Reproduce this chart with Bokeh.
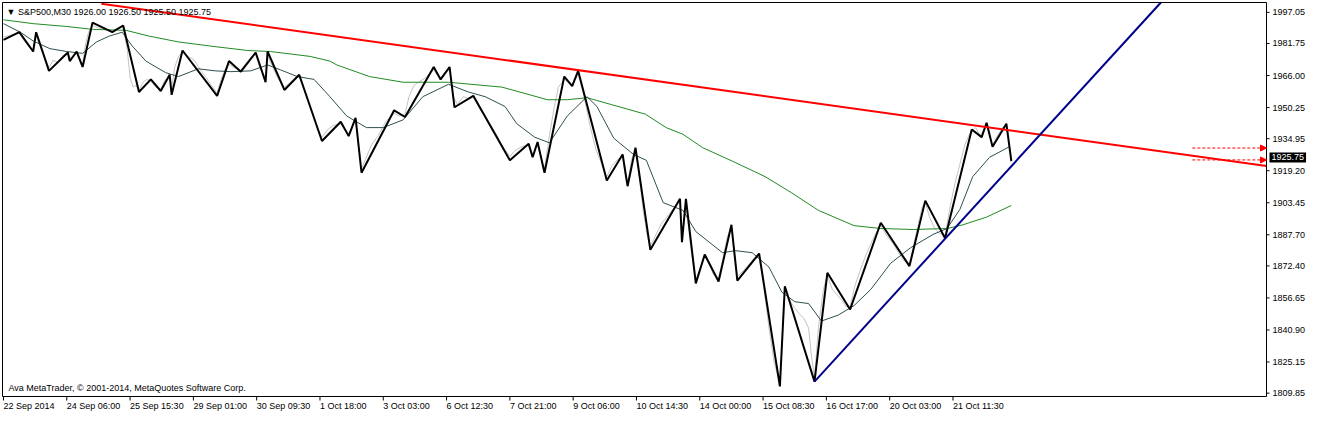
from bokeh.plotting import figure
from bokeh.models import Range1d, Label, Arrow, NormalHead
from bokeh.embed import file_html
from bokeh.resources import INLINE

# ---------------- data (bar index on x, price on y) ----------------
symbol = "S&P500,M30"
ohlc = ["1926.00", "1926.50", "1925.50", "1925.75"]
last_price = 1925.75
copyright_text = "Ava MetaTrader, \u00a9 2001-2014, MetaQuotes Software Corp."

x_tick_pos = [3, 67, 131, 195, 259, 323, 387, 451, 515, 579, 643, 707, 771, 835, 899, 963]
x_tick_labels = ["22 Sep 2014", "24 Sep 06:00", "25 Sep 15:30", "29 Sep 01:00",
                 "30 Sep 09:30", "1 Oct 18:00", "3 Oct 03:00", "6 Oct 12:30",
                 "7 Oct 21:00", "9 Oct 06:00", "10 Oct 14:30", "14 Oct 00:00",
                 "15 Oct 08:30", "16 Oct 17:00", "20 Oct 03:00", "21 Oct 11:30"]
y_ticks = [1997.05, 1981.75, 1966.00, 1950.25, 1934.95, 1919.20, 1903.45,
           1887.70, 1872.40, 1856.65, 1840.90, 1825.15, 1809.85]
x_min, x_max = 2, 1280          # chart window, bars
y_min, y_max = 1808.2, 2001.9   # chart window, price

# close price line (light gray)
close_x = [3, 10, 19, 24, 28, 33, 36, 40, 45, 49, 53, 58, 63, 68, 72, 77, 80, 83, 86, 89,
           93, 98, 105, 113, 118, 124, 128, 131, 134, 137, 140, 144, 148, 152, 157, 162, 166,
           171, 173, 176, 180, 184, 190, 196, 202, 208, 213, 219, 223, 227, 231, 236, 243,
           249, 254, 258, 262, 268, 270, 274, 280, 287, 292, 298, 302, 306, 311, 316, 320,
           325, 330, 336, 344, 348, 352, 356, 359, 362, 365, 369, 375, 382, 390, 398, 403,
           409, 413, 418, 424, 430, 438, 442, 445, 450, 454, 458, 462, 468, 474, 478, 484,
           490, 496, 502, 508, 515, 520, 527, 534, 538, 543, 547, 550, 555, 560, 564, 570,
           575, 578, 584, 590, 596, 602, 608, 613, 618, 624, 629, 632, 634, 638, 642, 646,
           650, 654, 657, 662, 668, 676, 682, 687, 689, 693, 697, 700, 703, 707, 712, 717,
           721, 726, 730, 735, 739, 742, 745, 750, 756, 762, 767, 772, 777, 782, 788, 791,
           793, 797, 802, 807, 812, 817, 820, 823, 827, 832, 836, 841, 846, 851, 855, 859,
           864, 870, 876, 882, 886, 890, 896, 902, 908, 913, 919, 923, 928, 932, 935, 939,
           944, 949, 955, 960, 965, 970, 975, 979, 982, 986, 990, 994, 997, 1000, 1003,
           1008, 1013, 1017, 1020, 1022]
close_y = [1984.9, 1985.8, 1986.8, 1983.0, 1980.6, 1978.3, 1985.8, 1980.2, 1974.5, 1969.8,
           1973.5, 1972.6, 1975.9, 1976.4, 1974.5, 1976.9, 1973.5, 1971.6, 1981.6, 1987.3,
           1990.6, 1989.6, 1988.7, 1987.7, 1989.2, 1989.6, 1979.2, 1965.0, 1960.3, 1961.2,
           1958.9, 1962.7, 1964.1, 1963.1, 1960.3, 1959.3, 1963.6, 1965.5, 1959.3, 1969.8,
           1975.4, 1977.3, 1975.4, 1973.5, 1968.8, 1965.0, 1961.2, 1957.5, 1964.1, 1968.8,
           1971.6, 1969.8, 1968.8, 1972.6, 1975.4, 1976.4, 1969.8, 1965.0, 1975.4, 1971.6,
           1965.0, 1960.3, 1962.2, 1965.0, 1965.5, 1960.3, 1953.2, 1947.0, 1940.4, 1935.7,
           1939.0, 1941.4, 1942.3, 1939.5, 1937.6, 1941.4, 1944.2, 1931.9, 1920.1, 1924.8,
           1931.9, 1936.6, 1943.7, 1947.5, 1946.1, 1947.0, 1955.6, 1961.2, 1963.1, 1965.0,
           1968.8, 1966.0, 1965.0, 1967.9, 1968.8, 1955.6, 1951.8, 1955.6, 1954.6, 1955.6,
           1949.9, 1946.1, 1941.4, 1936.6, 1931.0, 1926.2, 1929.1, 1931.0, 1931.9, 1927.2,
           1931.9, 1924.8, 1920.1, 1936.6, 1950.8, 1960.3, 1964.1, 1962.2, 1961.2, 1966.9,
           1955.6, 1941.4, 1929.5, 1922.4, 1916.3, 1921.5, 1924.8, 1926.2, 1915.3, 1913.0,
           1924.8, 1929.1, 1915.3, 1898.8, 1887.0, 1882.2, 1887.0, 1893.1, 1897.8, 1901.6,
           1904.5, 1885.5, 1903.5, 1884.6, 1874.2, 1865.7, 1870.4, 1877.0, 1872.8, 1868.0,
           1866.6, 1875.1, 1887.0, 1891.2, 1877.5, 1867.1, 1869.5, 1872.8, 1876.1, 1877.0,
           1860.9, 1842.0, 1825.5, 1814.6, 1842.0, 1860.9, 1856.2, 1852.4, 1849.1, 1846.8,
           1842.0, 1827.8, 1817.4, 1842.0, 1860.9, 1867.6, 1860.9, 1858.1, 1855.3, 1852.4,
           1852.4, 1862.8, 1871.4, 1878.9, 1885.5, 1889.3, 1892.2, 1887.4, 1883.6, 1878.9,
           1875.1, 1873.7, 1882.2, 1893.1, 1901.6, 1903.5, 1896.9, 1891.2, 1888.4, 1887.4,
           1901.2, 1913.0, 1922.4, 1931.9, 1936.6, 1938.5, 1940.4, 1936.6, 1939.0, 1941.4,
           1936.6, 1931.9, 1936.6, 1940.4, 1941.4, 1931.9, 1925.3]

# ZigZag indicator (thick black)
zz_x = [3, 19, 33, 36, 49, 68, 70, 77, 83, 93, 113, 124, 140, 152, 162, 171, 173, 184, 219,
        231, 243, 258, 268, 270, 287, 302, 325, 344, 352, 359, 365, 398, 409, 438, 445, 454,
        459, 478, 515, 534, 538, 543, 550, 570, 578, 584, 613, 629, 634, 642, 657, 687, 689,
        693, 703, 712, 726, 739, 745, 767, 788, 793, 823, 836, 859, 890, 919, 935, 955, 982,
        992, 997, 1003, 1017, 1022]
zz_y = [1983.5, 1987.3, 1977.8, 1987.3, 1968.3, 1977.3, 1973.1, 1977.8, 1970.2, 1992.0,
        1987.3, 1990.6, 1957.9, 1964.1, 1958.4, 1966.4, 1956.5, 1978.3, 1956.0, 1973.1,
        1967.9, 1977.3, 1962.7, 1977.8, 1958.9, 1966.4, 1933.8, 1943.3, 1936.2, 1945.2,
        1918.2, 1948.9, 1945.6, 1970.2, 1964.1, 1970.2, 1950.4, 1956.0, 1924.3, 1932.4,
        1925.8, 1933.3, 1918.2, 1965.5, 1960.8, 1968.3, 1914.4, 1927.2, 1911.6, 1930.5,
        1880.3, 1905.4, 1884.1, 1905.4, 1863.8, 1878.0, 1864.7, 1892.6, 1865.2, 1878.5,
        1813.2, 1862.4, 1815.5, 1869.0, 1851.0, 1893.6, 1872.3, 1904.5, 1886.0, 1939.5,
        1935.7, 1942.8, 1931.0, 1942.3, 1923.9]

# fast moving average (dark slate)
ma_fast_x = [3, 20, 33, 50, 67, 83, 97, 110, 123, 133, 147, 167, 180, 200, 217, 233, 253, 270,
             283, 300, 317, 333, 350, 370, 387, 407, 427, 453, 473, 490, 510, 522, 540, 555,
             573, 593, 603, 620, 640, 653, 670, 690, 703, 730, 743, 760, 777, 790, 803, 817,
             830, 847, 863, 880, 900, 920, 943, 957, 970, 983, 1000, 1020]
ma_fast_y = [1991.5, 1987.3, 1983.0, 1979.2, 1977.8, 1976.9, 1982.5, 1985.4, 1987.3, 1980.6,
             1973.1, 1967.4, 1965.5, 1969.3, 1968.3, 1967.9, 1968.3, 1971.2, 1968.8, 1965.5,
             1964.1, 1955.6, 1946.1, 1940.4, 1940.4, 1944.2, 1955.6, 1961.7, 1957.9, 1955.6,
             1950.8, 1942.3, 1935.7, 1932.9, 1946.1, 1955.6, 1950.8, 1935.2, 1927.2, 1924.3,
             1903.5, 1899.7, 1889.3, 1878.9, 1879.9, 1878.9, 1871.8, 1859.5, 1854.8, 1853.9,
             1845.3, 1848.2, 1852.9, 1860.9, 1873.7, 1881.3, 1887.9, 1890.8, 1900.2, 1916.3,
             1925.8, 1931.0]

# slow moving average (green)
ma_slow_x = [3, 33, 67, 93, 127, 150, 180, 217, 250, 273, 313, 333, 340, 373, 407, 453, 507,
             553, 573, 593, 617, 652, 673, 690, 710, 740, 773, 800, 827, 863, 890, 923, 957,
             973, 997, 1022]
ma_slow_y = [1993.4, 1991.5, 1990.1, 1988.7, 1988.2, 1985.4, 1982.5, 1980.2, 1978.3, 1977.8,
             1975.4, 1973.1, 1971.2, 1965.5, 1962.7, 1962.7, 1960.3, 1954.1, 1954.1, 1955.1,
             1951.8, 1947.0, 1940.4, 1937.1, 1930.5, 1923.9, 1916.3, 1908.3, 1899.7, 1892.2,
             1890.8, 1890.3, 1890.8, 1892.6, 1896.4, 1902.1]

# trend lines (anchor points)
resist_x = [102, 1280]
resist_y = [2001.3, 1921.5]
support_x = [823, 1040]
support_y = [1815.5, 1931.0]

# dashed price arrows at the right
arrow_levels = [1930.35, 1924.5]
arrow_from = 1205

FONT = "Liberation Sans"
FS = "9px"

# ---------------- canvas geometry ----------------
W, H = 1307, 413
fl, fr, ft, fb = 2, 1266, 2, 396          # chart window edges in canvas pixels
bx = (x_max - x_min) / (fr - fl)          # bars per pixel
py = (y_max - y_min) / (fb - ft)          # price per pixel
x_range = Range1d(x_min - fl * bx, x_max + (W - fr) * bx)
y_range = Range1d(y_min - (H - fb) * py, y_max + ft * py)

p = figure(width=W, height=H, output_backend="svg", toolbar_location=None,
           x_axis_location=None, y_axis_location=None,
           x_range=x_range, y_range=y_range,
           min_border_left=0, min_border_top=0, min_border_right=0, min_border_bottom=0)
p.grid.visible = False
p.outline_line_color = None
p.background_fill_color = "white"
p.border_fill_color = "white"

# series
p.line(close_x, close_y, line_color="#c4c4c4", line_width=1)
p.line(ma_slow_x, ma_slow_y, line_color="#228B22", line_width=1)
p.line(ma_fast_x, ma_fast_y, line_color="#2F4F4F", line_width=1)
p.line(zz_x, zz_y, line_color="black", line_width=2)
p.line(resist_x, resist_y, line_color="#ff0000", line_width=2)

# support ray, extended from its anchors up to the chart top
slope = (support_y[1] - support_y[0]) / (support_x[1] - support_x[0])
p.line([support_x[0], support_x[0] + (y_max - support_y[0]) / slope],
       [support_y[0], y_max], line_color="#00008B", line_width=2)

for lvl in arrow_levels:
    p.add_layout(Arrow(x_start=arrow_from, y_start=lvl, x_end=x_max, y_end=lvl,
                       line_color="#ff0000", line_width=1, line_dash="3 2",
                       end=NormalHead(size=6, fill_color="#ff0000", line_color="#ff0000")))

# chart window border
p.quad(left=[x_min], right=[x_max], bottom=[y_min], top=[y_max],
       fill_color=None, line_color="black", line_width=1)

# price scale (right)
p.segment(x0=[x_max] * len(y_ticks), y0=y_ticks,
          x1=[x_max + 3 * bx] * len(y_ticks), y1=y_ticks, line_color="black")
for t in y_ticks:
    p.add_layout(Label(x=x_max, y=t, x_offset=6, text=f"{t:.2f}", text_align="left",
                       text_baseline="middle", text_font=FONT, text_font_size=FS,
                       text_color="black"))

# time scale (bottom)
p.segment(x0=x_tick_pos, y0=[y_min] * len(x_tick_pos),
          x1=x_tick_pos, y1=[y_min - 4 * py] * len(x_tick_pos), line_color="black")
for pos, lbl in zip(x_tick_pos, x_tick_labels):
    p.add_layout(Label(x=pos, y=y_min, x_offset=0, y_offset=-9, text=lbl,
                       text_align="left", text_baseline="middle", text_font=FONT,
                       text_font_size=FS, text_color="black"))

# current price tag
p.add_layout(Label(x=x_max, y=last_price, x_offset=3, text=f"{last_price:.2f}",
                   text_align="left", text_baseline="middle", text_font=FONT,
                   text_font_size=FS, text_color="white",
                   background_fill_color="black", padding=2))

# header and copyright
p.add_layout(Label(x=x_min, y=y_max, x_offset=4, y_offset=-4,
                   text="\u25BC  " + symbol + "  " + " ".join(ohlc),
                   text_align="left", text_baseline="top", text_font=FONT,
                   text_font_size=FS, text_color="black"))
p.add_layout(Label(x=x_min, y=y_min, x_offset=6, y_offset=9, text=copyright_text,
                   text_align="left", text_baseline="middle", text_font=FONT,
                   text_font_size=FS, text_color="black"))

open("out.html", "w").write(file_html(p, INLINE))
